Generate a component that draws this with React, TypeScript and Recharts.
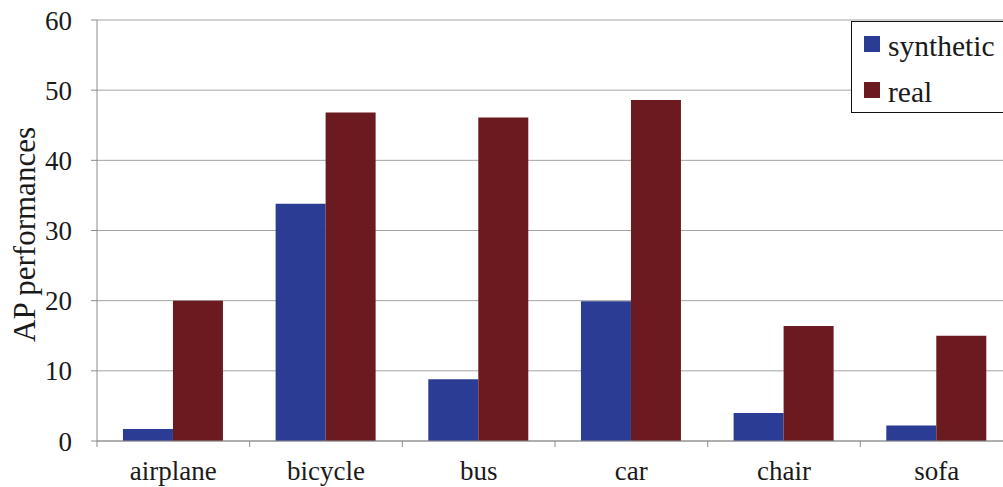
import React from 'react';
import { BarChart, Bar, XAxis, YAxis, CartesianGrid, Legend, Label } from 'recharts';

// AP per object class, synthetic vs real training data
const CATEGORIES = ['airplane', 'bicycle', 'bus', 'car', 'chair', 'sofa'];
const SYNTHETIC = [1.7, 33.8, 8.8, 19.9, 4.0, 2.2];
const REAL = [20.0, 46.8, 46.1, 48.6, 16.4, 15.0];
const SERIES = ['synthetic', 'real'];
const Y_TICKS = [0, 10, 20, 30, 40, 50, 60];

const data = CATEGORIES.map((name, i) => ({
  name,
  synthetic: SYNTHETIC[i],
  real: REAL[i],
}));

const FONT = '"Liberation Serif", "Times New Roman", serif';
const BLUE = '#2b3c95';
const RED = '#6b1b1f';
const AXIS = '#8c8c8c';
const GRID = '#a3a3a3';

const CHART_W = 1040;
const CHART_H = 487;
const MARGIN = { top: 20, right: 27, left: 0, bottom: 16 };
const Y_AXIS_W = 97;
const TICK_SIZE = 6;
const X_TICK_MARGIN = 14;
const BAND = (CHART_W - MARGIN.left - MARGIN.right - Y_AXIS_W) / CATEGORIES.length;

// category labels with tick marks on the band edges
const CategoryTick = (props: any) => {
  const { x, y, payload, index } = props;
  const half = BAND / 2;
  const axisY = y - TICK_SIZE - X_TICK_MARGIN;
  const i = payload?.index ?? index;
  return (
    <g>
      <line x1={x - half} x2={x - half} y1={axisY} y2={axisY + TICK_SIZE} stroke={AXIS} />
      {i === CATEGORIES.length - 1 && (
        <line x1={x + half} x2={x + half} y1={axisY} y2={axisY + TICK_SIZE} stroke={AXIS} />
      )}
      <text x={x} y={y} dy="0.71em" textAnchor="middle" fontFamily={FONT} fontSize={27} fill="#1a1a1a">
        {payload.value}
      </text>
    </g>
  );
};

const YTitle = (props: any) => {
  const { viewBox } = props;
  const x = viewBox.x + 35;
  const y = viewBox.y + viewBox.height / 2 + 4;
  return (
    <text
      x={x}
      y={y}
      transform={`rotate(-90, ${x}, ${y})`}
      textAnchor="middle"
      fontFamily={FONT}
      fontSize={31}
      fill="#1a1a1a"
    >
      AP performances
    </text>
  );
};

const LegendBox = (props: any) => {
  const items = [...(props.payload || [])].sort(
    (a: any, b: any) => SERIES.indexOf(a.value) - SERIES.indexOf(b.value)
  );
  return (
    <div
      style={{
        position: 'relative',
        width: 170,
        height: 90,
        border: '1.5px solid #111',
        background: '#fff',
        fontFamily: FONT,
        fontSize: 29.5,
        color: '#1a1a1a',
      }}
    >
      {items.map((entry: any, i: number) => (
        <div key={entry.value}>
          <div
            style={{
              position: 'absolute',
              left: 12,
              top: 14 + i * 46,
              width: 16,
              height: 16,
              background: entry.color,
            }}
          />
          <span
            style={{
              position: 'absolute',
              left: 36,
              top: 10 + i * 46,
              lineHeight: 1,
              whiteSpace: 'nowrap',
            }}
          >
            {entry.value}
          </span>
        </div>
      ))}
    </div>
  );
};

const App: React.FC = () => {
  return (
    <div
      style={{
        position: 'absolute',
        left: 0,
        top: 0,
        width: 1003,
        height: 487,
        overflow: 'hidden',
        background: '#fff',
      }}
    >
      <BarChart
        width={CHART_W}
        height={CHART_H}
        data={data}
        margin={MARGIN}
        barCategoryGap="17%"
        barGap={0}
      >
        <CartesianGrid vertical={false} stroke={GRID} />
        <XAxis
          dataKey="name"
          interval={0}
          stroke={AXIS}
          tickLine={false}
          tickSize={TICK_SIZE}
          tickMargin={X_TICK_MARGIN}
          tick={<CategoryTick />}
        />
        <YAxis
          width={Y_AXIS_W}
          domain={[0, 60]}
          ticks={Y_TICKS}
          interval={0}
          stroke={AXIS}
          tickSize={TICK_SIZE}
          tickMargin={19}
          tick={{ fontFamily: FONT, fontSize: 27, fill: '#1a1a1a' }}
        >
          <Label content={<YTitle />} />
        </YAxis>
        <Legend
          layout="vertical"
          align="center"
          verticalAlign="middle"
          itemSorter={null}
          wrapperStyle={{ top: 21, left: 851, width: 172 }}
          content={<LegendBox />}
        />
        <Bar dataKey="synthetic" name="synthetic" fill={BLUE} isAnimationActive={false} />
        <Bar dataKey="real" name="real" fill={RED} isAnimationActive={false} />
      </BarChart>
    </div>
  );
};

export default App;
